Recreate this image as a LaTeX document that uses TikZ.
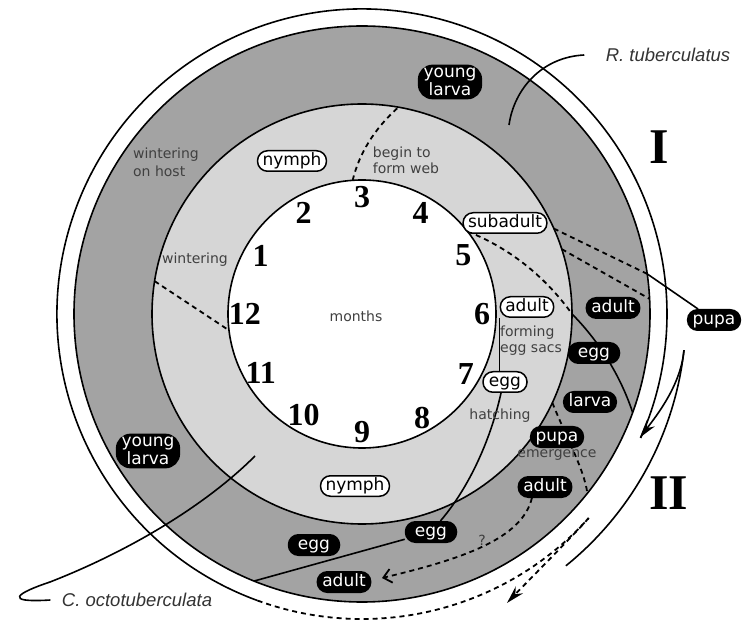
\documentclass[tikz,border=0pt]{standalone}
\usepackage{fontspec}
\setmainfont{Liberation Serif}
\setsansfont{DejaVu Sans}
\newfontfamily\speciesfont{Liberation Sans}
\usetikzlibrary{positioning,arrows.meta}

\pgfdeclarelayer{rings}
\pgfdeclarelayer{lines}
\pgfsetlayers{rings,lines,main}

\begin{document}
\begin{tikzpicture}[
  x=1pt, y=1pt,
  month/.style={font=\bfseries\fontsize{32}{32}\selectfont, inner sep=0pt},
  note/.style={font=\sffamily\fontsize{14}{16}\selectfont, text=black!75, align=left, inner sep=1pt},
  pill/.style={draw, line width=1.5pt, rounded corners=10pt, inner xsep=5pt, inner ysep=2pt,
    font=\sffamily\fontsize{17}{14}\selectfont},
  spider/.style={pill, fill=white, minimum width=44pt, text height=12.5pt, text depth=4pt},
  wasp/.style={pill, fill=black, text=white, minimum width=51pt, text height=12.5pt, text depth=4pt},
  young/.style={pill, fill=black, text=white, align=center, rounded corners=14pt, inner ysep=3pt},
  link/.style={line width=1.6pt},
  dashline/.style={line width=1.8pt, dash pattern=on 5pt off 4pt},
  cycle/.style={font=\bfseries\fontsize{50}{50}\selectfont},
  species/.style={font=\speciesfont\itshape\fontsize{18.5}{18.5}\selectfont, text=black!80}
]
\useasboundingbox (-362,-306) rectangle (381,314);

% rings of the year
\begin{pgfonlayer}{rings}
\begin{scope}[link]
  \fill[black!36] (0,0) circle[radius=288];
  \fill[black!16] (0,0) circle[radius=210];
  \fill[white] (0,0) circle[radius=134];
  \draw (0,0) circle[radius=288];
  \draw (0,0) circle[radius=210];
  \draw (0,0) circle[radius=134];
  \draw (250:305) arc[start angle=250, end angle=-24, radius=305];
  \draw[dashline] (250:305) arc[start angle=250, end angle=318, radius=305];
  \draw (-6.4:324) arc[start angle=-6.4, end angle=-51, radius=324];
\end{scope}
\end{pgfonlayer}

% months
\node[month] (m1) at (150:117) {1};
\node[month] (m2) at (120:117) {2};
\node[month] (m3) at (90:117) {3};
\node[month] (m4) at (60:117) {4};
\node[month] (m5) at (30:117) {5};
\node[month] (m6) at (0:120) {6};
\node[month] (m7) at (-30:120) {7};
\node[month] (m8) at (-60:120) {8};
\node[month] (m9) at (-90:118) {9};
\node[month] (m10) at (-120:117) {10};
\node[month] (m11) at (-150:117) {11};
\node[month] (m12) at (180:117) {12};
\node[note] (months) at (-6,-2) {months};

% spider stages
\node[spider] (nymphA) at (-70,153) {nymph};
\node[spider] (subadult) at (143,91) {subadult};
\node[spider] (adultW) at (165,7) {adult};
\node[spider] (eggW) at (143,-68) {egg};
\node[spider] (nymphB) at (-7,-172) {nymph};

% wasp stages
\node[young] (youngA) at (88,232) {young\\larva};
\node[young] (youngB) at (-214,-137) {young\\larva};
\node[wasp] (adultR) at (251,6) {adult};
\node[wasp] (pupaOut) at (352,-6) {pupa};
\node[wasp] (eggR) at (232,-39) {egg};
\node[wasp] (larva) at (228,-88) {larva};
\node[wasp] (pupaIn) at (195,-123) {pupa};
\node[note, below=0pt of pupaIn] (emerg) {emergence};
\node[wasp] (adultLo) at (183,-173) {adult};
\node[wasp] (eggLo) at (69,-218) {egg};
\node[wasp] (eggL) at (-48,-231) {egg};
\node[wasp] (adultB) at (-18,-268) {adult};

% notes
\node[note, font=\sffamily\fontsize{14}{18}\selectfont] (host) at (-196,152) {wintering\\on host};
\node[note] (winter) at (-167,54) {wintering};
\node[note] (web) at (44,154) {begin to\\form web};
\node[note] (sacs) at (169,-27) {forming\\egg sacs};
\node[note] (hatch) at (138,-102) {hatching};
\node[note] (qmark) at (120,-226) {?};
\node[species] (rtub) at (306,259) {R. tuberculatus};
\node[species] (coct) at (-225,-286) {C. octotuberculata};
\node[cycle] (cycI) at (297,167) {I};
\node[cycle] (cycII) at (307,-179) {II};

% free ends
\coordinate (webA) at (94:134);
\coordinate (webB) at (80:210);
\coordinate (winA) at (171:210);
\coordinate (winB) at (187:134);
\coordinate (subA) at (38:134);
\coordinate (subB) at (0:210);
\coordinate (subC) at (-20:288);
\coordinate (d1A) at (24:210);
\coordinate (d1B) at (8:288);
\coordinate (d2A) at (18:210);
\coordinate (d2B) at (3:288);
\coordinate (eggEnd) at (-112:288);
\coordinate (qEnd) at (20,-264);
\coordinate (lvA) at (-25:210);
\coordinate (lvB) at (-38.5:288);
\coordinate (iiA) at (-42:305);
\coordinate (iiB) at (145,-289);
\coordinate (iA) at (-6.4:324);
\coordinate (iB) at (-24:304);
\coordinate (rtubEnd) at (147,189);
\coordinate (coctEnd) at (-107,-142);

\begin{pgfonlayer}{lines}
\begin{scope}[link]
  \draw[dashline] (webA) .. controls (-3,160) and (12,185) .. (webB);
  \draw[dashline] (winA) -- (winB);
  \draw[dashline] (subA) .. controls (150,65) and (185,35) .. (subB);
  \draw (subB) .. controls (235,-25) and (258,-60) .. (subC);
  \draw[dashline] (d1A) -- (d1B);
  \draw[dashline] (d2A) -- (d2B);
  \draw (d1B) -- (pupaOut);
  \draw (adultW.south west) -- (adultW.south west |- eggW.north);
  \draw (eggW.250) .. controls (130,-120) and (110,-170) .. (eggLo);
  \draw (eggLo) -- (eggEnd);
  \draw[dashline, -{Straight Barb[length=8pt,width=14pt]}] (adultLo.220) .. controls (160,-225) and (100,-245) .. (qEnd);
  \draw[dashline] (lvA) .. controls (205,-125) and (222,-155) .. (lvB);
  \draw[dashline, -{Stealth[length=18pt,width=10pt]}] (iiA) .. controls (210,-223) and (162,-271) .. (iiB);
  \draw[-{Stealth[length=18pt,width=10pt]}] (iA) .. controls (319,-70) and (296,-100) .. (iB);
  \draw ([xshift=-18pt]rtub.west) .. controls (180,257) and (152,225) .. (rtubEnd);
  \draw ([xshift=-8pt]coct.west) .. controls (-360,-289) and (-345,-279) .. (-312,-268)
    .. controls (-240,-240) and (-160,-195) .. (coctEnd);
\end{scope}
\end{pgfonlayer}

\end{tikzpicture}
\end{document}
